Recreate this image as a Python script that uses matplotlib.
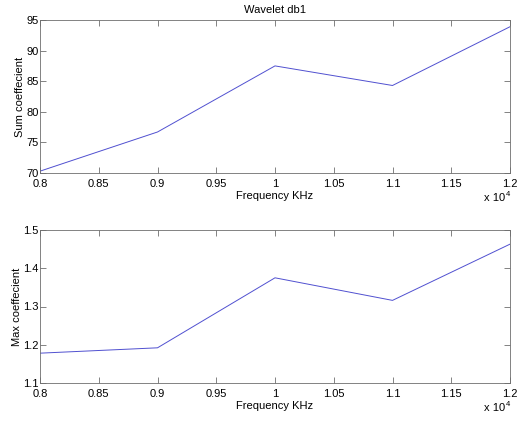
import matplotlib
matplotlib.use("Agg")
import matplotlib.pyplot as plt
from matplotlib.ticker import FuncFormatter, MultipleLocator

plt.rcParams['font.family'] = ['Liberation Sans', 'DejaVu Sans']
plt.rcParams['font.size'] = 8

# data
freq = [8000, 9000, 10000, 11000, 12000]
sum_coef = [70.3, 76.7, 87.5, 84.3, 93.9]
max_coef = [1.178, 1.192, 1.375, 1.316, 1.463]

fig = plt.figure(figsize=(5.27, 4.21), dpi=100)
W, H = 527, 421
ax1 = fig.add_axes([40 / W, 1 - 173 / H, 470 / W, 153 / H])
ax2 = fig.add_axes([40 / W, 1 - 383 / H, 470 / W, 153 / H])

axis_col = '#6e6e6e'

def style(ax):
    ax.set_xlim(8000, 12000)
    ax.xaxis.set_major_locator(MultipleLocator(500))
    ax.xaxis.set_major_formatter(FuncFormatter(lambda v, p: '%g' % (v / 1e4)))
    ax.tick_params(direction='in', length=4, width=0.6, colors=axis_col,
                   labelcolor='black', top=True, right=True)
    ax.tick_params(axis='x', pad=4)
    ax.tick_params(axis='y', pad=1)
    for s in ax.spines.values():
        s.set_color(axis_col)
        s.set_linewidth(0.6)
    ax.set_xlabel('Frequency KHz', labelpad=2)
    # exponent label, MATLAB style
    ax.text(0.99, -0.13, 'x 10', transform=ax.transAxes, ha='right',
            va='top', fontsize=8)
    ax.text(0.991, -0.12, '4', transform=ax.transAxes, ha='left',
            va='top', fontsize=5.5)

ax1.plot(freq, sum_coef, color='#5050d0', linewidth=0.7)
style(ax1)
ax1.set_ylim(70, 95)
ax1.yaxis.set_major_locator(MultipleLocator(5))
ax1.set_ylabel('Sum coeffecient', labelpad=1)
ax1.set_title('Wavelet db1', fontsize=8, pad=5)

ax2.plot(freq, max_coef, color='#5050d0', linewidth=0.7)
style(ax2)
ax2.set_ylim(1.1, 1.5)
ax2.yaxis.set_major_locator(MultipleLocator(0.1))
ax2.yaxis.set_major_formatter(FuncFormatter(lambda v, p: '%g' % round(v, 2)))
ax2.set_ylabel('Max coeffecient', labelpad=1)

fig.savefig('out.png', dpi=100)
